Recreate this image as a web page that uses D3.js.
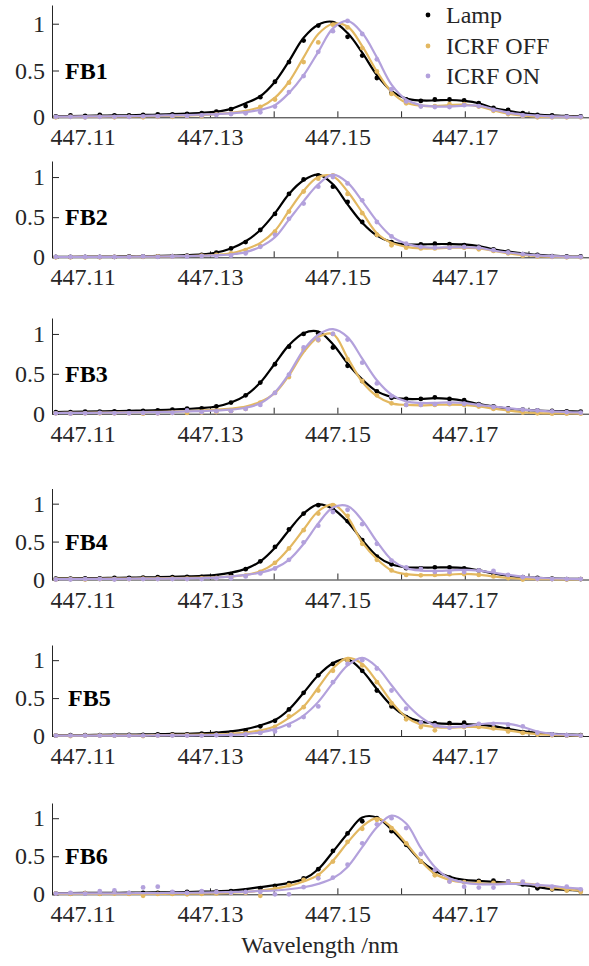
<!DOCTYPE html>
<html>
<head>
<meta charset="utf-8">
<script src="https://cdn.jsdelivr.net/npm/d3@7"></script>
<style>
  html, body { margin: 0; padding: 0; background: #fff; }
  svg { display: block; font-family: "Liberation Serif", "Times New Roman", serif; }
</style>
</head>
<body>
<svg id="chart" width="589" height="966"></svg>
<script>
// Sampled wavelengths (nm) shared by every measured profile
const wavelength = [447.1058,447.1081,447.1104,447.1127,447.1150,447.1173,447.1195,447.1218,447.1241,447.1264,447.1287,447.1310,447.1333,447.1356,447.1379,447.1402,447.1424,447.1447,447.1470,447.1493,447.1516,447.1539,447.1562,447.1585,447.1608,447.1631,447.1653,447.1676,447.1699,447.1722,447.1745,447.1768,447.1791,447.1814,447.1837,447.1860,447.1882];

const seriesNames = ["Lamp", "ICRF OFF", "ICRF ON"];
const panelNames = ["FB1", "FB2", "FB3", "FB4", "FB5", "FB6"];
const xTickValues = [447.13, 447.14, 447.15, 447.16, 447.17, 447.18];
const xLabelValues = [447.11, 447.13, 447.15, 447.17];
const yTickValues = [0, 0.5, 1];
const xAxisTitle = "Wavelength /nm";

// FB1: measured points and fitted profiles
const fb1LampPts = [0.01,0.02,0.015,0.025,0.02,0.02,0.025,0.03,0.03,0.035,0.045,0.06,0.086,0.12,0.215,0.38,0.59,0.82,0.98,1.0,0.86,0.66,0.42,0.26,0.19,0.175,0.19,0.19,0.18,0.15,0.1,0.08,0.045,0.025,0.02,0.01,0.01];
const fb1LampFit = [0.012,0.014,0.016,0.018,0.02,0.022,0.025,0.028,0.033,0.039,0.047,0.06,0.09,0.15,0.225,0.38,0.6,0.85,0.99,1.02,0.9,0.69,0.45,0.28,0.2,0.18,0.18,0.185,0.175,0.15,0.1,0.07,0.045,0.03,0.02,0.014,0.01];
const fb1OffPts = [0.0,0.005,0.0,0.005,0.0,0.005,0.0,0.005,0.005,0.01,0.01,0.03,0.04,0.05,0.11,0.19,0.37,0.59,0.8,0.99,0.96,0.74,0.49,0.25,0.15,0.12,0.12,0.14,0.14,0.115,0.07,0.035,0.015,0.0,0.0,0.0,0.0];
const fb1OffFit = [0.006,0.006,0.007,0.008,0.009,0.01,0.011,0.013,0.016,0.02,0.025,0.034,0.047,0.07,0.11,0.21,0.38,0.64,0.89,1.0,0.97,0.76,0.49,0.27,0.155,0.125,0.12,0.13,0.135,0.115,0.075,0.04,0.02,0.008,0.005,0.004,0.003];
const fb1OnPts = [0.005,0.005,0.0,0.005,0.005,0.005,0.01,0.01,0.015,0.015,0.02,0.025,0.035,0.043,0.054,0.115,0.27,0.44,0.7,0.92,1.03,0.89,0.62,0.3,0.17,0.115,0.11,0.11,0.13,0.12,0.08,0.045,0.02,0.01,0.005,0.005,0.005];
const fb1OnFit = [0.008,0.008,0.009,0.01,0.011,0.013,0.015,0.018,0.021,0.024,0.029,0.034,0.042,0.055,0.08,0.13,0.26,0.45,0.7,0.95,1.03,0.9,0.64,0.35,0.19,0.13,0.115,0.115,0.125,0.125,0.086,0.05,0.03,0.018,0.01,0.007,0.005];

// FB2
const fb2LampPts = [0.005,0.005,0.005,0.005,0.005,0.01,0.01,0.01,0.015,0.02,0.03,0.058,0.11,0.19,0.34,0.54,0.79,0.97,1.02,0.88,0.69,0.44,0.28,0.19,0.15,0.16,0.17,0.165,0.15,0.13,0.1,0.07,0.04,0.03,0.015,0.01,0.01];
const fb2LampFit = [0.006,0.007,0.008,0.009,0.01,0.012,0.014,0.017,0.021,0.026,0.036,0.06,0.11,0.2,0.34,0.55,0.79,0.96,1.03,0.91,0.66,0.43,0.27,0.19,0.16,0.16,0.165,0.165,0.16,0.14,0.1,0.07,0.05,0.03,0.02,0.012,0.008];
const fb2OffPts = [0.0,0.0,0.0,0.0,0.005,0.005,0.005,0.01,0.01,0.015,0.02,0.03,0.05,0.09,0.14,0.32,0.57,0.82,0.98,1.02,0.79,0.55,0.28,0.15,0.12,0.11,0.11,0.12,0.12,0.1,0.08,0.05,0.02,0.01,0.005,0.0,0.0];
const fb2OffFit = [0.004,0.004,0.005,0.005,0.006,0.007,0.008,0.01,0.012,0.016,0.022,0.032,0.05,0.1,0.18,0.33,0.58,0.83,1.0,1.01,0.82,0.56,0.3,0.18,0.13,0.11,0.11,0.12,0.12,0.11,0.08,0.05,0.03,0.015,0.008,0.005,0.003];
const fb2OnPts = [0.005,0.005,0.005,0.005,0.005,0.005,0.01,0.005,0.01,0.01,0.015,0.015,0.02,0.05,0.13,0.28,0.48,0.67,0.88,1.0,0.92,0.71,0.44,0.26,0.17,0.13,0.12,0.12,0.13,0.12,0.09,0.06,0.04,0.02,0.01,0.005,0.005];
const fb2OnFit = [0.004,0.004,0.005,0.005,0.006,0.007,0.008,0.01,0.012,0.015,0.019,0.025,0.035,0.065,0.13,0.25,0.47,0.7,0.91,1.03,0.93,0.7,0.45,0.26,0.17,0.13,0.12,0.125,0.125,0.12,0.085,0.06,0.04,0.025,0.015,0.008,0.005];

// FB3
const fb3LampPts = [0.02,0.02,0.025,0.025,0.03,0.03,0.035,0.04,0.05,0.063,0.065,0.09,0.14,0.23,0.39,0.62,0.84,1.0,1.01,0.83,0.6,0.41,0.28,0.2,0.185,0.185,0.205,0.185,0.17,0.12,0.09,0.065,0.05,0.04,0.035,0.03,0.025];
const fb3LampFit = [0.02,0.023,0.026,0.029,0.032,0.036,0.04,0.045,0.052,0.06,0.07,0.09,0.14,0.23,0.39,0.63,0.86,1.01,1.03,0.87,0.63,0.43,0.28,0.21,0.185,0.185,0.195,0.185,0.16,0.12,0.09,0.062,0.047,0.038,0.033,0.03,0.026];
const fb3OffPts = [0.005,0.0,0.005,0.005,0.005,0.005,0.0,0.005,0.01,0.01,0.015,0.02,0.03,0.06,0.14,0.26,0.46,0.8,0.92,1.0,0.68,0.41,0.23,0.13,0.11,0.11,0.11,0.12,0.11,0.09,0.06,0.035,0.015,0.005,0.0,0.0,0.0];
const fb3OffFit = [0.009,0.01,0.011,0.013,0.015,0.017,0.02,0.023,0.027,0.032,0.04,0.05,0.065,0.09,0.15,0.26,0.48,0.77,0.96,1.0,0.7,0.4,0.22,0.13,0.11,0.105,0.11,0.115,0.11,0.09,0.065,0.04,0.018,0.008,0.004,0.003,0.002];
const fb3OnPts = [0.005,0.0,0.005,0.01,0.005,0.005,0.01,0.005,0.01,0.04,0.02,0.03,0.03,0.06,0.11,0.26,0.49,0.83,0.93,1.0,0.93,0.64,0.38,0.22,0.11,0.11,0.12,0.13,0.125,0.11,0.084,0.06,0.05,0.04,0.03,0.02,0.013];
const fb3OnFit = [0.009,0.01,0.011,0.012,0.014,0.016,0.018,0.021,0.024,0.028,0.033,0.04,0.05,0.075,0.13,0.27,0.5,0.8,0.99,1.06,0.96,0.69,0.42,0.24,0.155,0.135,0.135,0.143,0.135,0.11,0.09,0.07,0.05,0.038,0.03,0.02,0.017];

// FB4
const fb4LampPts = [0.01,0.01,0.015,0.015,0.02,0.02,0.025,0.03,0.03,0.035,0.035,0.04,0.07,0.136,0.24,0.43,0.66,0.87,0.98,0.92,0.77,0.52,0.3,0.2,0.15,0.145,0.16,0.16,0.145,0.12,0.08,0.05,0.03,0.02,0.01,0.005,0.005];
const fb4LampFit = [0.015,0.016,0.018,0.02,0.022,0.024,0.027,0.03,0.034,0.04,0.048,0.06,0.09,0.14,0.24,0.42,0.65,0.87,0.99,0.93,0.76,0.52,0.31,0.2,0.16,0.158,0.158,0.16,0.15,0.12,0.08,0.05,0.03,0.022,0.015,0.01,0.008];
const fb4OffPts = [0.0,0.005,0.0,0.005,0.005,0.005,0.01,0.01,0.01,0.01,0.015,0.02,0.03,0.05,0.1,0.22,0.41,0.65,0.87,0.98,0.84,0.47,0.26,0.12,0.06,0.055,0.06,0.07,0.07,0.06,0.04,0.02,0.0,0.005,0.005,0.0,0.005];
const fb4OffFit = [0.007,0.008,0.009,0.01,0.011,0.012,0.014,0.016,0.018,0.021,0.025,0.03,0.04,0.06,0.11,0.22,0.41,0.66,0.9,0.99,0.82,0.49,0.27,0.12,0.07,0.058,0.058,0.065,0.075,0.065,0.04,0.02,0.008,0.004,0.003,0.002,0.002];
const fb4OnPts = [0.0,0.0,0.005,0.005,0.0,0.005,0.005,0.005,0.005,0.005,0.005,0.015,0.015,0.04,0.08,0.145,0.26,0.49,0.71,0.89,0.92,0.73,0.47,0.25,0.16,0.14,0.1,0.1,0.1,0.12,0.114,0.06,0.03,0.01,0.005,0.005,0.005];
const fb4OnFit = [0.006,0.006,0.007,0.008,0.009,0.01,0.011,0.012,0.014,0.016,0.02,0.026,0.04,0.06,0.09,0.15,0.26,0.47,0.74,0.95,0.97,0.78,0.5,0.26,0.15,0.118,0.114,0.12,0.128,0.118,0.09,0.06,0.036,0.022,0.015,0.01,0.006];

// FB5
const fb5LampPts = [0.005,0.01,0.01,0.01,0.01,0.015,0.015,0.02,0.02,0.02,0.03,0.03,0.045,0.07,0.127,0.2,0.35,0.57,0.8,0.95,1.0,0.86,0.6,0.39,0.25,0.18,0.17,0.17,0.175,0.14,0.12,0.09,0.05,0.03,0.02,0.01,0.01];
const fb5LampFit = [0.011,0.012,0.013,0.015,0.017,0.019,0.021,0.024,0.027,0.03,0.036,0.045,0.06,0.09,0.14,0.21,0.35,0.57,0.8,0.96,1.01,0.86,0.62,0.4,0.26,0.19,0.17,0.16,0.158,0.15,0.13,0.096,0.06,0.04,0.028,0.02,0.015];
const fb5OffPts = [0.005,0.0,0.005,0.005,0.005,0.005,0.0,0.005,0.01,0.01,0.01,0.015,0.02,0.03,0.044,0.12,0.26,0.38,0.6,0.86,1.0,0.93,0.71,0.43,0.22,0.118,0.075,0.118,0.118,0.12,0.1,0.06,0.04,0.02,0.01,0.005,0.005];
const fb5OffFit = [0.005,0.005,0.006,0.007,0.008,0.009,0.01,0.011,0.013,0.015,0.018,0.022,0.03,0.045,0.075,0.13,0.24,0.39,0.64,0.89,1.03,0.95,0.72,0.45,0.25,0.15,0.118,0.11,0.118,0.118,0.096,0.075,0.044,0.026,0.016,0.01,0.006];
const fb5OnPts = [0.005,0.005,0.005,0.005,0.005,0.005,0.005,0.005,0.005,0.005,0.005,0.01,0.015,0.02,0.04,0.06,0.14,0.25,0.39,0.71,0.95,1.0,0.89,0.6,0.36,0.18,0.14,0.11,0.127,0.16,0.16,0.15,0.127,0.044,0.02,0.01,0.005];
const fb5OnFit = [0.005,0.005,0.005,0.005,0.005,0.005,0.006,0.007,0.008,0.009,0.01,0.012,0.015,0.025,0.048,0.09,0.16,0.27,0.45,0.7,0.93,1.03,0.91,0.67,0.43,0.25,0.14,0.118,0.127,0.153,0.17,0.162,0.118,0.06,0.03,0.018,0.01];

// FB6
const fb6LampPts = [0.01,0.01,0.015,0.01,0.02,0.015,0.02,0.02,0.025,0.03,0.03,0.035,0.04,0.05,0.08,0.11,0.145,0.21,0.33,0.57,0.8,0.96,1.0,0.83,0.65,0.43,0.28,0.22,0.167,0.176,0.18,0.165,0.13,0.079,0.066,0.055,0.045];
const fb6LampFit = [0.016,0.017,0.018,0.019,0.02,0.021,0.023,0.025,0.027,0.03,0.034,0.04,0.05,0.068,0.095,0.12,0.15,0.2,0.33,0.56,0.8,1.01,1.01,0.85,0.65,0.44,0.31,0.23,0.19,0.176,0.165,0.15,0.125,0.095,0.068,0.057,0.048];
const fb6OffPts = [0.01,0.005,0.015,0.005,0.01,0.005,-0.02,0.005,0.005,0.0,0.005,0.01,0.015,0.02,-0.02,0.07,0.12,0.19,0.25,0.43,0.69,0.86,0.98,0.87,0.67,0.43,0.25,0.17,0.16,0.16,0.15,0.16,0.16,0.12,0.07,0.05,0.03];
const fb6OffFit = [0.005,0.005,0.005,0.005,0.005,0.005,0.006,0.006,0.007,0.008,0.01,0.013,0.02,0.03,0.048,0.075,0.11,0.167,0.255,0.44,0.68,0.89,1.0,0.88,0.67,0.44,0.27,0.19,0.155,0.145,0.137,0.145,0.145,0.123,0.093,0.066,0.048];
const fb6OnPts = [0.01,0.02,0.01,0.04,0.05,0.02,0.09,0.1,0.03,0.02,0.04,0.03,0.02,0.03,0.03,0.0,0.0,0.093,0.21,0.22,0.39,0.67,0.92,1.0,0.87,0.53,0.32,0.167,0.1,0.088,0.088,0.167,0.167,0.123,0.1,0.1,0.066];
const fb6OnFit = [0.012,0.012,0.012,0.013,0.013,0.014,0.015,0.016,0.018,0.02,0.022,0.025,0.03,0.035,0.044,0.05,0.066,0.093,0.137,0.21,0.36,0.62,0.88,1.035,0.93,0.61,0.36,0.21,0.154,0.132,0.13,0.137,0.137,0.123,0.11,0.088,0.075];

// Panel table built from the arrays above
const panels = [
  { name: panelNames[0], pts: [fb1LampPts, fb1OffPts, fb1OnPts], fit: [fb1LampFit, fb1OffFit, fb1OnFit] },
  { name: panelNames[1], pts: [fb2LampPts, fb2OffPts, fb2OnPts], fit: [fb2LampFit, fb2OffFit, fb2OnFit] },
  { name: panelNames[2], pts: [fb3LampPts, fb3OffPts, fb3OnPts], fit: [fb3LampFit, fb3OffFit, fb3OnFit] },
  { name: panelNames[3], pts: [fb4LampPts, fb4OffPts, fb4OnPts], fit: [fb4LampFit, fb4OffFit, fb4OnFit] },
  { name: panelNames[4], pts: [fb5LampPts, fb5OffPts, fb5OnPts], fit: [fb5LampFit, fb5OffFit, fb5OnFit] },
  { name: panelNames[5], pts: [fb6LampPts, fb6OffPts, fb6OnPts], fit: [fb6LampFit, fb6OffFit, fb6OnFit] }
];

// Layout
const colors = ["#000000", "#E3B861", "#B3A1DC"];
const axisColor = "#262626";
const frames = [
  { top: 5,     base: 117.3, labelDx: 0 },
  { top: 161,   base: 257.3, labelDx: 0 },
  { top: 318,   base: 413.7, labelDx: 0 },
  { top: 488.5, base: 579.5, labelDx: 0 },
  { top: 645,   base: 736,   labelDx: 3 },
  { top: 803,   base: 894.3, labelDx: 0 }
];
const left = 52;
const fontSize = 24;

const svg = d3.select("#chart");
const x = d3.scaleLinear().domain([447.1052, 447.19]).range([left, 592.2]);

panels.forEach((p, i) => {
  const f = frames[i];
  const y = d3.scaleLinear().domain([0, 1.2]).range([f.base, f.top]);
  const g = svg.append("g");

  // y axis: inward ticks, labels on the left
  const ya = g.append("g")
    .attr("transform", `translate(${left},0)`)
    .call(d3.axisLeft(y).tickValues(yTickValues).tickFormat(d3.format("")).tickSizeInner(-7).tickSizeOuter(0).tickPadding(7));
  ya.attr("font-family", null).attr("font-size", fontSize).attr("color", axisColor);
  ya.selectAll("text").attr("fill", axisColor);

  // x axis: inward ticks
  const xa = g.append("g")
    .attr("transform", `translate(0,${f.base})`)
    .call(d3.axisBottom(x).tickValues(xTickValues).tickFormat("").tickSizeInner(-6).tickSizeOuter(0));
  xa.attr("color", axisColor);

  // x tick labels
  const xl = g.append("g")
    .attr("transform", `translate(0,${f.base})`)
    .call(d3.axisBottom(x).tickValues(xLabelValues).tickFormat(d3.format(".2f")).tickSize(0).tickPadding(11));
  xl.select(".domain").remove();
  xl.attr("font-family", null).attr("font-size", fontSize).attr("color", axisColor);

  // profiles: fitted line then measured points, per series
  p.fit.forEach((vals, s) => {
    const line = d3.line()
      .x((d, k) => x(wavelength[k]))
      .y(d => y(d))
      .curve(d3.curveCatmullRom.alpha(0.5));
    g.append("path")
      .attr("d", line(vals))
      .attr("fill", "none")
      .attr("stroke", colors[s])
      .attr("stroke-width", 2.2)
      .attr("stroke-linejoin", "round");
    g.append("g").selectAll("circle")
      .data(p.pts[s])
      .join("circle")
      .attr("cx", (d, k) => x(wavelength[k]))
      .attr("cy", d => y(d))
      .attr("r", 2.4)
      .attr("fill", colors[s]);
  });

  // panel label
  g.append("text")
    .attr("x", 65 + f.labelDx)
    .attr("y", y(0.5) + 8)
    .attr("font-size", fontSize)
    .attr("font-weight", "bold")
    .attr("fill", "#000")
    .text(p.name);
});

// legend
const legend = svg.append("g");
const legendY = [15, 46, 76];
seriesNames.forEach((name, s) => {
  legend.append("circle").attr("cx", 428).attr("cy", legendY[s]).attr("r", 2.4).attr("fill", colors[s]);
  legend.append("text")
    .attr("x", 446)
    .attr("y", legendY[s] + 8)
    .attr("font-size", fontSize)
    .attr("fill", axisColor)
    .text(name);
});

// x axis title
svg.append("text")
  .attr("x", 320)
  .attr("y", 953)
  .attr("text-anchor", "middle")
  .attr("font-size", fontSize)
  .attr("fill", axisColor)
  .text(xAxisTitle);
</script>
</body>
</html>
